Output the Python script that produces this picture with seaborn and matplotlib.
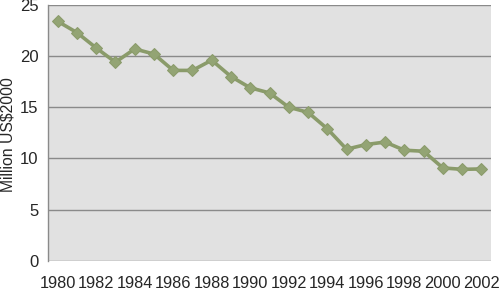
import matplotlib
matplotlib.use("Agg")
import matplotlib.pyplot as plt
import seaborn as sns
import pandas as pd

years = list(range(1980, 2003))
values = [23.4, 22.3, 20.8, 19.4, 20.7, 20.2, 18.6, 18.6, 19.6, 18.0,
          16.9, 16.4, 15.0, 14.5, 12.9, 10.9, 11.35, 11.6, 10.8, 10.7,
          9.07, 8.93, 8.97]
ylabel = "Million US$2000"

df = pd.DataFrame({"year": years, "value": values})

sns.set_style("white")
plt.rcParams["font.family"] = ["Liberation Sans", "DejaVu Sans"]

fig = plt.figure(figsize=(5, 2.9), dpi=100)
ax = fig.add_axes([0.096, 0.101, 0.886, 0.882])
ax.set_facecolor("#e1e1e1")

for y in [5, 10, 15, 20, 25, 0]:
    ax.axhline(y, color="#8a8a8a", lw=1.0, zorder=1)

sns.lineplot(data=df, x="year", y="value", ax=ax, color="#8a9b6a",
             lw=2.6, marker="D", markersize=6.5, markeredgecolor="#8a9b6a",
             markerfacecolor="#93a474", zorder=3)

ax.set_xlim(1979.5, 2002.5)
ax.set_ylim(0, 25)
ax.set_xticks(years[::2])
ax.set_xticklabels([str(y) for y in years[::2]], fontsize=11.8)
ax.set_yticks([0, 5, 10, 15, 20, 25])
ax.set_yticklabels(["0", "5", "10", "15", "20", "25"], fontsize=12)
ax.tick_params(axis="both", length=0)
ax.tick_params(axis="y", pad=7)
ax.tick_params(axis="x", pad=11)
ax.set_xlabel("")
ax.set_ylabel("")
fig.text(0.017, 0.537, ylabel, rotation=90, ha="center", va="center",
         fontsize=11.3)
for s in ["top", "right", "bottom"]:
    ax.spines[s].set_visible(False)
ax.spines["left"].set_color("#8a8a8a")
ax.spines["left"].set_linewidth(1.0)

fig.savefig("out.png", dpi=100)
